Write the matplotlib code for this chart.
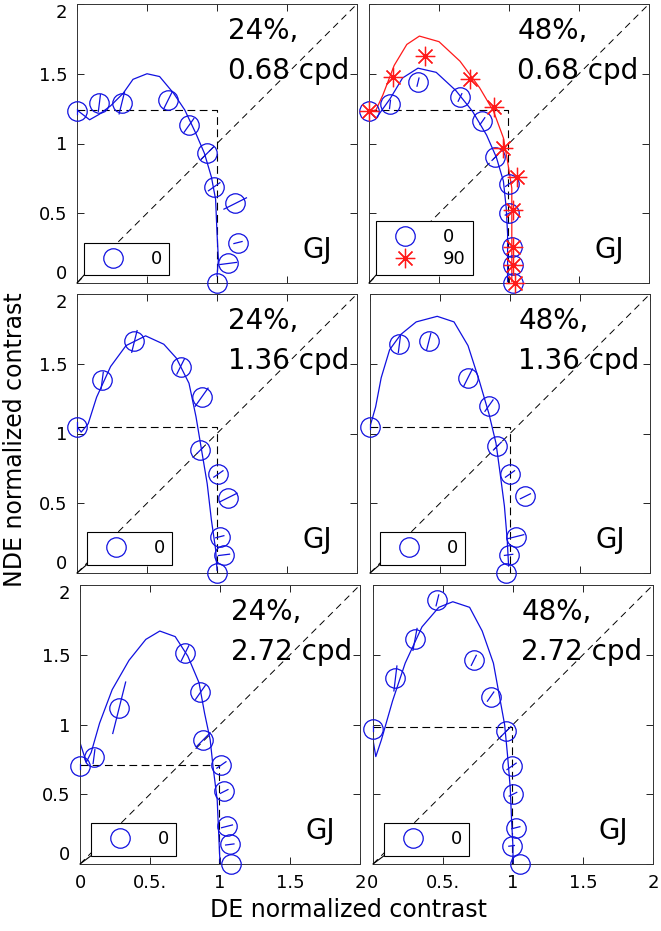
import numpy as np
import matplotlib
matplotlib.use("Agg")
import matplotlib.pyplot as plt

# -----------------------------
# data (DE / NDE normalized contrast)
# -----------------------------
titles_pct = ["24%,", "48%,", "24%,", "48%,", "24%,", "48%,"]
titles_cpd = ["0.68 cpd", "0.68 cpd", "1.36 cpd", "1.36 cpd", "2.72 cpd", "2.72 cpd"]
xtick_labels = ["0", "0.5.", "1", "1.5", "2"]
ytick_labels = ["0", "0.5", "1", "1.5", "2"]

# panel 1: 24%, 0.68 cpd
p1_de = [0.00, 0.16, 0.32, 0.65, 0.80, 0.93, 0.98, 1.13, 1.15, 1.08, 1.00]
p1_nde = [1.23, 1.29, 1.29, 1.31, 1.13, 0.93, 0.69, 0.57, 0.29, 0.14, 0.00]
p1_err = [0.02, 0.06, 0.08, 0.07, 0.06, 0.06, 0.05, 0.09, 0.03, 0.06, 0.00]
p1_fit_de = [0.00, 0.09, 0.16, 0.24, 0.33, 0.40, 0.50, 0.59, 0.69, 0.77, 0.85,
             0.91, 0.96, 0.99, 1.00, 1.01, 1.00]
p1_fit_nde = [1.24, 1.17, 1.21, 1.27, 1.36, 1.46, 1.50, 1.48, 1.36, 1.24, 1.07,
              0.93, 0.76, 0.60, 0.36, 0.17, 0.05]
p1_ref = (1.00, 1.24)

# panel 2: 48%, 0.68 cpd (0 and 90 deg)
p2_de = [0.00, 0.15, 0.35, 0.65, 0.81, 0.90, 1.00, 1.00, 1.02, 1.03, 1.03]
p2_nde = [1.23, 1.28, 1.44, 1.33, 1.16, 0.90, 0.71, 0.50, 0.26, 0.13, 0.00]
p2_err = [0.02, 0.03, 0.03, 0.03, 0.03, 0.03, 0.03, 0.03, 0.02, 0.02, 0.00]
p2_fit_de = [0.00, 0.05, 0.15, 0.24, 0.35, 0.48, 0.62, 0.74, 0.84, 0.91, 0.96,
             0.98, 0.99, 0.99, 0.99]
p2_fit_nde = [1.23, 1.18, 1.32, 1.47, 1.54, 1.51, 1.38, 1.23, 1.06, 0.90, 0.73,
              0.54, 0.35, 0.16, 0.01]
p2_de90 = [0.00, 0.17, 0.40, 0.72, 0.89, 0.96, 1.06, 1.03, 1.03, 1.03, 1.04]
p2_nde90 = [1.23, 1.48, 1.63, 1.46, 1.26, 0.97, 0.76, 0.52, 0.26, 0.13, 0.00]
p2_fit_de90 = [0.00, 0.05, 0.10, 0.18, 0.27, 0.36, 0.50, 0.65, 0.79, 0.89, 0.96,
               0.99, 1.02, 1.02, 1.02, 1.02]
p2_fit_nde90 = [1.23, 1.24, 1.35, 1.56, 1.71, 1.77, 1.73, 1.59, 1.40, 1.23, 1.04,
                0.87, 0.68, 0.49, 0.27, 0.01]
p2_ref = (0.99, 1.24)

# panel 3: 24%, 1.36 cpd
p3_de = [0.00, 0.18, 0.41, 0.74, 0.89, 0.88, 1.01, 1.08, 1.02, 1.05, 1.00]
p3_nde = [1.05, 1.38, 1.66, 1.48, 1.26, 0.88, 0.71, 0.54, 0.26, 0.13, 0.00]
p3_err = [0.03, 0.06, 0.08, 0.06, 0.08, 0.03, 0.04, 0.07, 0.03, 0.04, 0.00]
p3_fit_de = [0.00, 0.03, 0.08, 0.14, 0.24, 0.35, 0.49, 0.62, 0.71, 0.80, 0.85,
             0.89, 0.93, 0.96, 0.99, 1.00]
p3_fit_nde = [1.05, 1.01, 1.07, 1.26, 1.48, 1.63, 1.70, 1.64, 1.54, 1.36, 1.12,
              0.88, 0.64, 0.38, 0.17, 0.02]
p3_ref = (1.00, 1.05)

# panel 4: 48%, 1.36 cpd
p4_de = [0.00, 0.21, 0.42, 0.70, 0.85, 0.91, 1.00, 1.11, 1.04, 0.99, 0.97]
p4_nde = [1.05, 1.64, 1.66, 1.40, 1.20, 0.91, 0.71, 0.55, 0.26, 0.13, 0.00]
p4_err = [0.02, 0.06, 0.06, 0.07, 0.05, 0.04, 0.04, 0.04, 0.06, 0.03, 0.00]
p4_fit_de = [0.00, 0.04, 0.08, 0.14, 0.22, 0.33, 0.48, 0.60, 0.70, 0.78, 0.85,
             0.90, 0.93, 0.96, 0.98, 0.99]
p4_fit_nde = [1.05, 1.19, 1.40, 1.60, 1.71, 1.80, 1.84, 1.80, 1.63, 1.38, 1.14,
              0.93, 0.71, 0.48, 0.24, 0.05]
p4_ref = (1.00, 1.05)

# panel 5: 24%, 2.72 cpd
p5_de = [0.00, 0.10, 0.28, 0.75, 0.86, 0.88, 1.01, 1.03, 1.05, 1.07, 1.08]
p5_nde = [0.70, 0.77, 1.12, 1.51, 1.23, 0.89, 0.71, 0.52, 0.27, 0.14, 0.00]
p5_err = [0.02, 0.05, 0.19, 0.06, 0.06, 0.07, 0.04, 0.03, 0.04, 0.03, 0.00]
p5_fit_de = [0.00, 0.045, 0.08, 0.14, 0.23, 0.35, 0.47, 0.57, 0.68, 0.77, 0.85,
             0.89, 0.93, 0.95, 0.98, 0.99, 1.00]
p5_fit_nde = [0.87, 0.73, 0.80, 1.01, 1.25, 1.46, 1.61, 1.67, 1.63, 1.49, 1.30,
              1.08, 0.89, 0.70, 0.46, 0.23, 0.01]
p5_ref = (0.99, 0.71)

# panel 6: 48%, 2.72 cpd
p6_de = [0.00, 0.16, 0.30, 0.46, 0.72, 0.84, 0.95, 0.99, 1.00, 1.02, 0.99, 1.05]
p6_nde = [0.97, 1.33, 1.61, 1.89, 1.46, 1.20, 0.95, 0.70, 0.50, 0.26, 0.13, 0.00]
p6_err = [0.02, 0.09, 0.08, 0.04, 0.04, 0.04, 0.05, 0.04, 0.03, 0.03, 0.02, 0.00]
p6_fit_de = [0.00, 0.02, 0.06, 0.14, 0.23, 0.35, 0.47, 0.57, 0.69, 0.78, 0.86,
             0.90, 0.94, 0.96, 0.98, 0.99, 1.00, 1.00]
p6_fit_nde = [0.89, 0.77, 0.89, 1.17, 1.44, 1.70, 1.84, 1.88, 1.84, 1.67, 1.44,
              1.22, 1.00, 0.79, 0.55, 0.31, 0.12, 0.01]
p6_ref = (0.99, 0.98)

panels = [
    (p1_de, p1_nde, p1_err, p1_fit_de, p1_fit_nde, p1_ref),
    (p2_de, p2_nde, p2_err, p2_fit_de, p2_fit_nde, p2_ref),
    (p3_de, p3_nde, p3_err, p3_fit_de, p3_fit_nde, p3_ref),
    (p4_de, p4_nde, p4_err, p4_fit_de, p4_fit_nde, p4_ref),
    (p5_de, p5_nde, p5_err, p5_fit_de, p5_fit_nde, p5_ref),
    (p6_de, p6_nde, p6_err, p6_fit_de, p6_fit_nde, p6_ref),
]

# -----------------------------
# figure layout
# -----------------------------
W, H = 661, 931
fig = plt.figure(figsize=(W / 100, H / 100), dpi=100)
col_left = [[77, 369], [77, 370], [80, 373]]
row_top = [4, 294, 585]
ax_w, ax_h = 280, 279
leg_off = [(0.025, 0.028), (0.035, 0.03), (0.04, 0.03)]

blue = "#1010e0"
red = "#ff1a1a"
star = (8, 2, 0)

for i, (de, nde, err, fde, fnde, ref) in enumerate(panels):
    r, c = divmod(i, 2)
    ax = fig.add_axes([col_left[r][c] / W, 1 - (row_top[r] + ax_h) / H,
                       ax_w / W, ax_h / H])
    ax.set_xlim(0, 2)
    ax.set_ylim(0, 2)

    # diagonal and reference box
    ax.plot([0, 2], [0, 2], color="k", lw=0.7, dashes=(7, 5), zorder=1)
    ax.plot([0, ref[0], ref[0]], [ref[1], ref[1], 0], color="k", lw=0.8,
            dashes=(7, 4), zorder=1)

    # fitted curve
    if i == 1:
        ax.plot(p2_fit_de90, p2_fit_nde90, color=red, lw=0.9, zorder=2)
    ax.plot(fde, fnde, color=blue, lw=0.9, zorder=2)

    # radial error bars
    de_a = np.array(de)
    nde_a = np.array(nde)
    rad = np.hypot(de_a, nde_a)
    for x, y, e, rr in zip(de_a, nde_a, err, rad):
        if e <= 0:
            continue
        ux, uy = x / rr, y / rr
        ax.plot([x - e * ux, x + e * ux], [y - e * uy, y + e * uy],
                color=blue, lw=0.9, zorder=3, clip_on=False)

    h0, = ax.plot(de, nde, "o", ms=14, mfc="none", mec=blue, mew=0.9,
                  zorder=4, clip_on=False, label="0")
    handles = [h0]
    if i == 1:
        h90, = ax.plot(p2_de90, p2_nde90, ls="none", marker=star, ms=14,
                       color=red, mew=0.9, zorder=5, clip_on=False, label="90")
        ax.plot(p2_de90, p2_nde90, ls="none", marker="o", ms=2.5, color=red,
                zorder=5, clip_on=False)
        handles.append(h90)

    lx, ly = leg_off[r]
    leg = ax.legend(handles=handles, loc="lower left", bbox_to_anchor=(lx, ly),
                    borderaxespad=0, fontsize=13, frameon=True, fancybox=False,
                    framealpha=1, edgecolor="k", handlelength=2.4,
                    handletextpad=0.9, borderpad=0.4, labelspacing=0.2)
    leg.get_frame().set_linewidth(0.8)
    leg.set_zorder(6)
    ax.plot([0, lx], [0, ly], transform=ax.transAxes, color="k", lw=0.8,
            zorder=6, clip_on=False)

    # annotations
    tx = 1.08 if c == 0 else 1.06
    ax.text(tx, 1.75, titles_pct[i], fontsize=20, va="baseline", zorder=0)
    ax.text(tx, 1.46, titles_cpd[i], fontsize=20, va="baseline", zorder=0)
    ax.text(1.61, 0.18, "GJ", fontsize=20, va="baseline")

    ax.set_xticks([0, 0.5, 1, 1.5, 2])
    ax.set_yticks([0, 0.5, 1, 1.5, 2])
    ax.tick_params(direction="in", top=True, right=True, length=5, width=0.6,
                   labelsize=13, pad=7)
    if c == 0:
        ax.set_yticklabels(ytick_labels)
        # end labels sit inside the axis range, as in the original
        ylabs = ax.get_yticklabels()
        ylabs[0].set_va("bottom")
        ylabs[-1].set_va("top")
    else:
        ax.set_yticklabels([])
    if r == 2:
        ax.set_xticklabels(xtick_labels)
    else:
        ax.set_xticklabels([])
    for s in ax.spines.values():
        s.set_linewidth(0.7)
        s.set_color("#333333")

fig.text(15 / W, 1 - 440 / H, "NDE normalized contrast", rotation=90,
         fontsize=17, ha="center", va="center")
fig.text(348 / W, 1 - 910 / H, "DE normalized contrast", fontsize=17,
         ha="center", va="center")

plt.savefig("out.png", dpi=100)
